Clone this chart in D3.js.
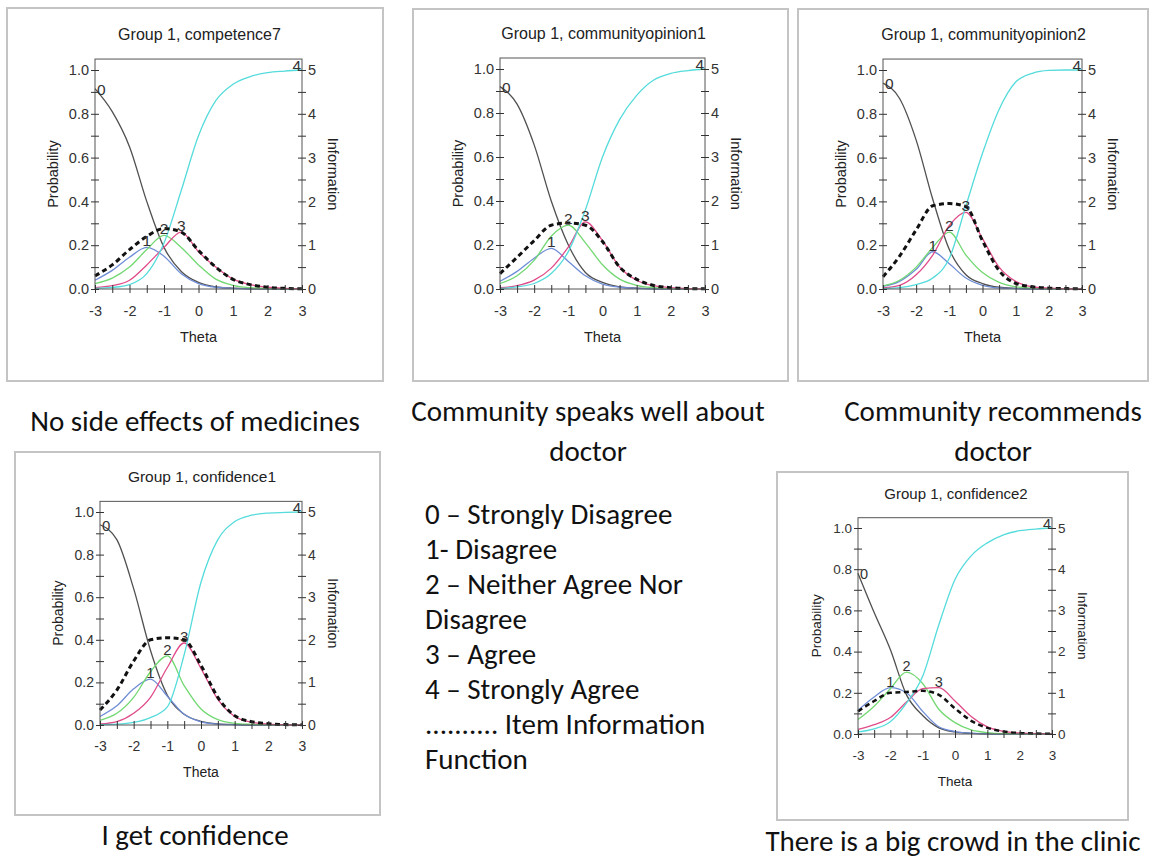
<!DOCTYPE html>
<html>
<head>
<meta charset="utf-8">
<script src="https://cdn.jsdelivr.net/npm/d3@7"></script>
<style>
  body { margin: 0; background: #fff; }
  svg { display: block; }
</style>
</head>
<body>
<svg id="fig" width="1150" height="861"></svg>
<script>
// theta grid the curves were read at
var theta = [-3, -2.5, -2, -1.5, -1, -0.5, 0, 0.5, 1, 1.5, 2, 2.5, 3];
var categories = ["0", "1", "2", "3", "4"];

var titles = ["Group 1, competence7", "Group 1, communityopinion1", "Group 1, communityopinion2",
              "Group 1, confidence1", "Group 1, confidence2"];

// probability of each category (rows 0..4), and item information
var competence7Prob = [
  [0.915, 0.81, 0.65, 0.40, 0.19, 0.08, 0.03, 0.01, 0.004, 0.001, 0, 0, 0],
  [0.04, 0.085, 0.145, 0.19, 0.15, 0.07, 0.025, 0.008, 0.003, 0.001, 0, 0, 0],
  [0.025, 0.05, 0.10, 0.18, 0.245, 0.19, 0.11, 0.045, 0.017, 0.006, 0.002, 0.001, 0],
  [0.006, 0.015, 0.04, 0.11, 0.19, 0.26, 0.17, 0.10, 0.045, 0.02, 0.008, 0.003, 0.001],
  [0.003, 0.007, 0.02, 0.07, 0.21, 0.45, 0.70, 0.86, 0.935, 0.97, 0.988, 0.995, 1.0]
];
var competence7Info = [0.3, 0.55, 0.9, 1.2, 1.38, 1.3, 0.88, 0.5, 0.22, 0.1, 0.04, 0.015, 0.005];

var opinion1Prob = [
  [0.92, 0.84, 0.655, 0.40, 0.20, 0.075, 0.03, 0.01, 0.004, 0.001, 0, 0, 0],
  [0.035, 0.08, 0.14, 0.185, 0.125, 0.06, 0.022, 0.008, 0.003, 0.001, 0, 0, 0],
  [0.025, 0.06, 0.13, 0.24, 0.29, 0.21, 0.11, 0.045, 0.017, 0.006, 0.002, 0.001, 0],
  [0.006, 0.015, 0.04, 0.095, 0.19, 0.305, 0.22, 0.10, 0.04, 0.015, 0.006, 0.002, 0.001],
  [0.003, 0.01, 0.025, 0.07, 0.17, 0.36, 0.60, 0.77, 0.88, 0.95, 0.98, 0.993, 1.0]
];
var opinion1Info = [0.35, 0.72, 1.1, 1.45, 1.5, 1.45, 1.08, 0.5, 0.22, 0.08, 0.03, 0.01, 0.005];

var opinion2Prob = [
  [0.94, 0.87, 0.68, 0.41, 0.18, 0.065, 0.025, 0.008, 0.003, 0.001, 0, 0, 0],
  [0.012, 0.035, 0.09, 0.17, 0.115, 0.05, 0.017, 0.005, 0.002, 0, 0, 0, 0],
  [0.014, 0.04, 0.10, 0.19, 0.26, 0.155, 0.075, 0.03, 0.01, 0.004, 0.001, 0, 0],
  [0.005, 0.017, 0.065, 0.155, 0.29, 0.35, 0.23, 0.10, 0.035, 0.01, 0.004, 0.001, 0],
  [0.002, 0.006, 0.02, 0.05, 0.14, 0.38, 0.62, 0.82, 0.945, 0.985, 0.998, 1.0, 1.0]
];
var opinion2Info = [0.28, 0.75, 1.35, 1.9, 1.95, 1.88, 1.1, 0.42, 0.13, 0.05, 0.02, 0.01, 0.005];

var confidence1Prob = [
  [0.94, 0.87, 0.64, 0.35, 0.14, 0.05, 0.017, 0.005, 0.002, 0, 0, 0, 0],
  [0.04, 0.09, 0.17, 0.215, 0.135, 0.05, 0.015, 0.004, 0.001, 0, 0, 0, 0],
  [0.022, 0.055, 0.13, 0.25, 0.325, 0.185, 0.075, 0.025, 0.008, 0.003, 0.001, 0, 0],
  [0.005, 0.016, 0.055, 0.13, 0.27, 0.385, 0.265, 0.12, 0.04, 0.013, 0.004, 0.001, 0],
  [0.002, 0.004, 0.012, 0.035, 0.085, 0.33, 0.67, 0.87, 0.955, 0.985, 0.995, 0.998, 1.0]
];
var confidence1Info = [0.35, 0.82, 1.5, 2.0, 2.05, 2.0, 1.4, 0.65, 0.22, 0.08, 0.03, 0.01, 0.005];

var confidence2Prob = [
  [0.78, 0.59, 0.41, 0.19, 0.09, 0.03, 0.01, 0.003, 0.001, 0, 0, 0, 0],
  [0.115, 0.18, 0.225, 0.2, 0.11, 0.035, 0.012, 0.004, 0.001, 0, 0, 0, 0],
  [0.07, 0.135, 0.22, 0.30, 0.245, 0.12, 0.055, 0.02, 0.007, 0.002, 0.001, 0, 0],
  [0.022, 0.045, 0.08, 0.155, 0.22, 0.225, 0.16, 0.085, 0.035, 0.013, 0.005, 0.002, 0],
  [0.01, 0.025, 0.06, 0.15, 0.28, 0.53, 0.75, 0.865, 0.928, 0.967, 0.987, 0.995, 1.0]
];
var confidence2Info = [0.55, 0.8, 1.0, 1.02, 1.05, 0.95, 0.62, 0.32, 0.15, 0.06, 0.025, 0.01, 0.005];

var captions = [
  ["No side effects of medicines"],
  ["Community speaks well about", "doctor"],
  ["Community recommends", "doctor"],
  ["I get confidence"],
  ["There is a big crowd in the clinic"]
];

var legendLines = ["0 \u2013 Strongly Disagree", "1- Disagree", "2 \u2013 Neither Agree Nor", "Disagree",
                   "3 \u2013 Agree", "4 \u2013 Strongly Agree", ".......... Item Information", "Function"];

// ---- styling / layout ----
var catColors = ["#505050", "#6f8dd6", "#72d872", "#e04c8a", "#55dbdb"];
var chartFont = "Arial, 'Liberation Sans', sans-serif";
var slideFont = "Calibri, Carlito, Lato, sans-serif";

var panels = [
  { prob: competence7Prob, info: competence7Info, box: [7, 8, 376, 373], x0: 95, x1: 302, yt: 70, yb: 289, fs: 14.5, dash: 3 },
  { prob: opinion1Prob, info: opinion1Info, box: [413, 9, 375, 372], x0: 500, x1: 705, yt: 69, yb: 289, fs: 14.5, dash: 3 },
  { prob: opinion2Prob, info: opinion2Info, box: [798, 9, 350, 372], x0: 883, x1: 1082, yt: 70, yb: 289, fs: 14.5, dash: 3 },
  { prob: confidence1Prob, info: confidence1Info, box: [15, 452, 365, 363], x0: 100, x1: 302, yt: 512, yb: 725, fs: 14, dash: 3 },
  { prob: confidence2Prob, info: confidence2Info, box: [777, 472, 351, 348], x0: 858, x1: 1052, yt: 528, yb: 734, fs: 13.5, dash: 2.5 }
];

var svg = d3.select("#fig");
svg.append("rect").attr("width", 1150).attr("height", 861).attr("fill", "#fff");

panels.forEach(function(p, pi) {
  var g = svg.append("g");
  g.append("rect")
    .attr("x", p.box[0]).attr("y", p.box[1]).attr("width", p.box[2]).attr("height", p.box[3])
    .attr("fill", "#fff").attr("stroke", "#c4c4c4").attr("stroke-width", 2);

  var x = d3.scaleLinear().domain([-3, 3]).range([p.x0, p.x1]);
  var y = d3.scaleLinear().domain([0, 1]).range([p.yb, p.yt]);
  var yInfo = d3.scaleLinear().domain([0, 5]).range([p.yb, p.yt]);
  var top = y(1.05), tk = 4;

  // title
  g.append("text").attr("x", (p.x0 + p.x1) / 2 + 1).attr("y", top - 19)
    .attr("text-anchor", "middle").attr("font-family", chartFont).attr("font-size", p.fs + 1.5)
    .attr("fill", "#222").text(titles[pi]);

  // curves
  var line = d3.line().x(function(d, i) { return x(theta[i]); }).curve(d3.curveMonotoneX);
  p.prob.forEach(function(row, k) {
    g.append("path").datum(row)
      .attr("d", line.y(function(d) { return y(d); }))
      .attr("fill", "none").attr("stroke", catColors[k]).attr("stroke-width", 1.3);
  });
  g.append("path").datum(p.info)
    .attr("d", line.y(function(d) { return yInfo(d); }))
    .attr("fill", "none").attr("stroke", "#111").attr("stroke-width", p.dash)
    .attr("stroke-dasharray", "5,3.5");

  // frame
  g.append("rect").attr("x", p.x0).attr("y", top).attr("width", p.x1 - p.x0).attr("height", p.yb - top)
    .attr("fill", "none").attr("stroke", "#555").attr("stroke-width", 1);

  function styleAxis(a) {
    a.attr("font-family", chartFont).attr("font-size", p.fs).style("color", "#333");
    a.select(".domain").remove();
  }

  var xa = g.append("g").attr("transform", "translate(0," + p.yb + ")")
    .call(d3.axisBottom(x).tickValues(d3.range(-3, 3.01, 0.5)).tickSize(tk)
      .tickFormat(function(d) { return Number.isInteger(d) ? String(d) : ""; }));
  styleAxis(xa);
  xa.selectAll(".tick line").attr("y1", -tk);
  xa.selectAll(".tick text").attr("y", p.fs + 12).attr("dy", null);

  var ya = g.append("g").attr("transform", "translate(" + p.x0 + ",0)")
    .call(d3.axisLeft(y).tickValues(d3.range(0, 1.01, 0.1)).tickSize(tk).tickPadding(2)
      .tickFormat(function(d) { return Math.round(d * 10) % 2 === 0 ? d3.format(".1f")(d) : ""; }));
  styleAxis(ya);
  ya.selectAll(".tick line").attr("x1", tk);

  var ra = g.append("g").attr("transform", "translate(" + p.x1 + ",0)")
    .call(d3.axisRight(yInfo).tickValues(d3.range(0, 5.01, 0.5)).tickSize(tk).tickPadding(2)
      .tickFormat(function(d) { return Number.isInteger(d) ? String(d) : ""; }));
  styleAxis(ra);
  ra.selectAll(".tick line").attr("x1", -tk);

  // axis titles
  g.append("text").attr("x", (p.x0 + p.x1) / 2).attr("y", p.yb + p.fs + 38)
    .attr("text-anchor", "middle").attr("font-family", chartFont).attr("font-size", p.fs)
    .attr("fill", "#222").text("Theta");
  var midY = (top + p.yb) / 2;
  g.append("text").attr("transform", "translate(" + (p.x0 - 37) + "," + midY + ") rotate(-90)")
    .attr("text-anchor", "middle").attr("font-family", chartFont).attr("font-size", p.fs)
    .attr("fill", "#222").text("Probability");
  g.append("text").attr("transform", "translate(" + (p.x1 + 26) + "," + midY + ") rotate(90)")
    .attr("text-anchor", "middle").attr("font-family", chartFont).attr("font-size", p.fs)
    .attr("fill", "#222").text("Information");

  // category labels
  p.prob.forEach(function(row, k) {
    var lx, ly, anchor = "middle";
    if (k === 0) { lx = x(theta[0]) + 2; ly = y(row[0]) + 6; anchor = "start"; }
    else if (k === categories.length - 1) { lx = x(theta[theta.length - 1]) - 1; ly = y(row[row.length - 1]) + 1; anchor = "end"; }
    else {
      var mi = d3.maxIndex(row);
      lx = x(theta[mi]); ly = y(row[mi]) - 1;
    }
    g.append("text").attr("x", lx).attr("y", ly).attr("text-anchor", anchor)
      .attr("font-family", chartFont).attr("font-size", p.fs + 1).attr("fill", "#333")
      .text(categories[k]);
  });
});

// slide captions
var capPos = [[195, 431], [588, 421], [993, 421], [195, 845], [953, 851]];
captions.forEach(function(lines, i) {
  lines.forEach(function(s, j) {
    svg.append("text").attr("x", capPos[i][0]).attr("y", capPos[i][1] + j * 40)
      .attr("text-anchor", "middle").attr("font-family", slideFont).attr("font-size", 29)
      .attr("fill", "#111").text(s);
  });
});

svg.append("g").selectAll("text").data(legendLines).enter().append("text")
  .attr("x", 425).attr("y", function(d, i) { return 524 + i * 35; })
  .attr("font-family", slideFont).attr("font-size", 29).attr("fill", "#111")
  .text(function(d) { return d; });
</script>
</body>
</html>
